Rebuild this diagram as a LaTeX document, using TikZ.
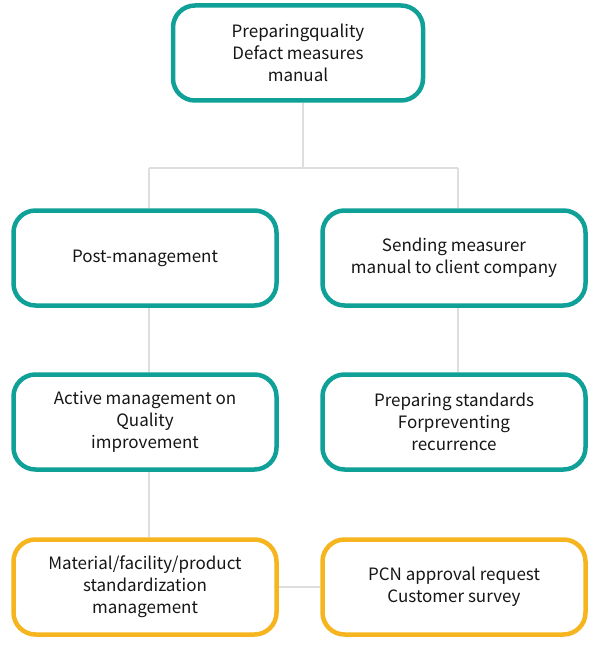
\documentclass[tikz,border=0pt]{standalone}
\usepackage{fontspec}
\setmainfont{Noto Sans CJK KR}
\usetikzlibrary{backgrounds}
\definecolor{teal1}{HTML}{0FA098}
\definecolor{gold1}{HTML}{F6B51E}
\definecolor{line1}{HTML}{DEDEDE}
\definecolor{txt1}{HTML}{161616}
\begin{document}
\begin{tikzpicture}[x=1pt,y=-1pt,
  boxbase/.style={draw, fill=white, line width=4.5pt, rounded corners=22pt,
    minimum height=95pt, align=center, text=txt1,
    font=\fontsize{17}{22}\selectfont, inner sep=0pt},
  tealbox/.style={boxbase, draw=teal1, minimum width=263pt},
  goldbox/.style={boxbase, draw=gold1, minimum width=263pt},
  conn/.style={draw=line1, line width=2.8pt}]
\useasboundingbox (0,0) rectangle (600,650);
\node[tealbox, minimum width=250pt] (top) at (298,53) {Preparingquality\\Defact measures\\manual};
\node[tealbox] (b1) at (145,258) {Post-management};
\node[tealbox] (b2) at (454,258) {Sending measurer\\manual to client company};
\node[tealbox] (c1) at (145,422) {Active management on\\Quality\\improvement};
\node[tealbox] (c2) at (454,422) {Preparing standards\\Forpreventing\\recurrence};
\node[goldbox] (d1) at (145,587) {Material/facility/product\\standardization\\management};
\node[goldbox] (d2) at (454,587) {PCN approval request\\Customer survey};
\coordinate (jt) at (303,168);
\coordinate (jl) at (149,168);
\coordinate (jr) at (458,168);
\begin{scope}[on background layer]
\draw[conn] (top.south -| jt) -- (jt);
\draw[conn] (jl) -- (jr);
\draw[conn] (jl) -- (b1.north -| jl);
\draw[conn] (jr) -- (b2.north -| jr);
\draw[conn] (b1.south -| jl) -- (c1.north -| jl);
\draw[conn] (b2.south -| jr) -- (c2.north -| jr);
\draw[conn] (c1.south -| jl) -- (d1.north -| jl);
\draw[conn] (d1.east) -- (d2.west);
\end{scope}
\end{tikzpicture}
\end{document}
